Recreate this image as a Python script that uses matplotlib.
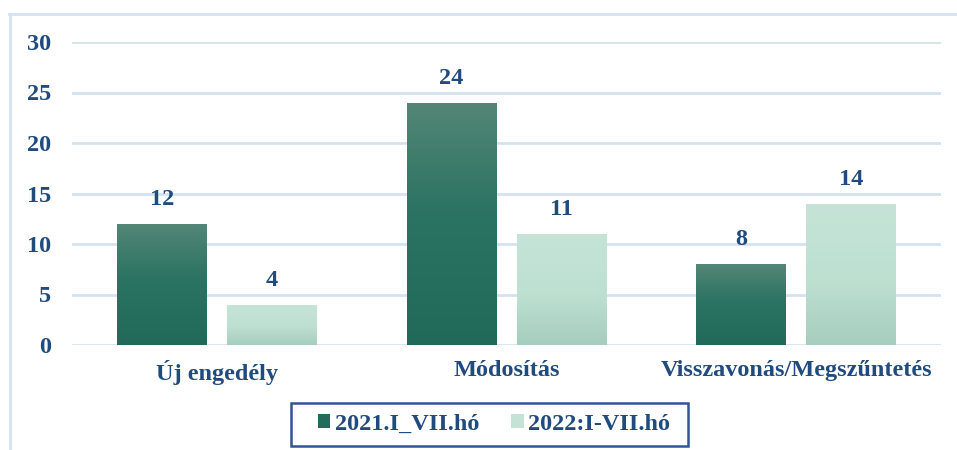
import matplotlib
matplotlib.use("Agg")
import matplotlib.pyplot as plt
import numpy as np
from matplotlib.colors import LinearSegmentedColormap
from matplotlib.patches import Patch, Rectangle
from matplotlib.lines import Line2D

categories = ["Új engedély", "Módosítás", "Visszavonás/Megszűntetés"]
series_names = ["2021.I_VII.hó", "2022:I-VII.hó"]
values_2021 = [12, 24, 8]
values_2022 = [4, 11, 14]
yticks = [0, 5, 10, 15, 20, 25, 30]

TEXT = "#1f4b7f"
GRID = "#d5e2f2"
dark_stops = [(0.0, "#216959"), (0.55, "#2b7363"), (1.0, "#548676")]
light_stops = [(0.0, "#a6cdbe"), (0.45, "#bde0d1"), (1.0, "#c5e4d7")]

plt.rcParams['font.family'] = ['Liberation Serif', 'DejaVu Serif']
plt.rcParams['font.weight'] = 'bold'
FS = 17.5

fig = plt.figure(figsize=(9.57, 4.5), dpi=100)
ax = fig.add_axes([72/957, 1-345/450, (941-72)/957, (345-42)/450])

x = np.arange(len(categories))
w = 0.31
off = 0.19

def grad_bars(xs, vals, stops):
    cmap = LinearSegmentedColormap.from_list("g", stops)
    bars = ax.bar(xs, vals, width=w, color="none", edgecolor="none", zorder=3)
    grad = np.linspace(0, 1, 256).reshape(-1, 1)
    for b in bars:
        x0, y0 = b.get_x(), b.get_y()
        x1, y1 = x0 + b.get_width(), y0 + b.get_height()
        im = ax.imshow(grad, extent=[x0, x1, y0, y1], origin="lower", cmap=cmap,
                       aspect="auto", zorder=3)
        im.set_clip_path(b)
    return bars

b1 = grad_bars(x - off, values_2021, dark_stops)
b2 = grad_bars(x + off, values_2022, light_stops)

for bars, vals in ((b1, values_2021), (b2, values_2022)):
    for b, v in zip(bars, vals):
        ax.annotate(str(v), (b.get_x() + b.get_width()/2, v), xytext=(0, 10),
                    textcoords="offset points", ha="center", va="bottom",
                    color=TEXT, fontsize=FS, fontweight="bold")

ax.set_xlim(-0.5, 2.5)
ax.set_ylim(0, 30)
ax.set_yticks(yticks)
ax.set_yticklabels([str(t) for t in yticks], color=TEXT, fontsize=FS, fontweight="bold")
ax.set_xticks(x)
ax.set_xticklabels(categories, color=TEXT, fontsize=FS, fontweight="bold")
ax.tick_params(axis="both", length=0)
ax.tick_params(axis="y", pad=15)
ax.tick_params(axis="x", pad=11)
ax.grid(axis="y", color=GRID, linewidth=2, zorder=0)
ax.set_axisbelow(True)
for s in ax.spines.values():
    s.set_visible(False)

handles = [Patch(facecolor="#236b5b", edgecolor="none"), Patch(facecolor="#c4e3d6", edgecolor="none")]
leg = fig.legend(handles, series_names, loc="center", bbox_to_anchor=(494/957, 1-424/450),
                 ncol=2, frameon=False, fontsize=FS, handlelength=0.53, handleheight=0.53,
                 handletextpad=0.2, columnspacing=1.28, borderpad=0, borderaxespad=0)
for t in leg.get_texts():
    t.set_color(TEXT)
    t.set_fontweight("bold")

# legend box
fig.add_artist(Rectangle((291/957, 1-446/450), (688-291)/957, (446-403)/450, fill=False,
                         edgecolor="#2f5597", linewidth=1.8, transform=fig.transFigure))

# outer border (top and left visible)
fig.add_artist(Line2D([9/957, 1], [1-13.5/450, 1-13.5/450], color=GRID, linewidth=2, transform=fig.transFigure))
fig.add_artist(Line2D([9.5/957, 9.5/957], [0, 1-13.5/450], color=GRID, linewidth=2, transform=fig.transFigure))

fig.savefig("out.png", dpi=100)
